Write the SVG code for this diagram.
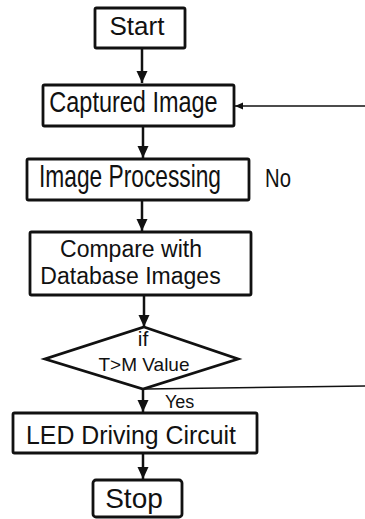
<svg xmlns="http://www.w3.org/2000/svg" width="365" height="519" viewBox="0 0 365 519">
<style>
.box{fill:#fff;stroke:#111;stroke-width:2.8}
.t{font-family:"Liberation Sans",Arial,sans-serif;fill:#111;text-anchor:middle}
.l{font-family:"Liberation Sans",Arial,sans-serif;fill:#111}
.arr{stroke:#111;stroke-width:2.5;fill:none}
.thin{stroke:#111;stroke-width:1.5;fill:none}
</style>
<defs>
<marker id="ah" markerUnits="userSpaceOnUse" markerWidth="12" markerHeight="12" viewBox="0 0 12 12" refX="12" refY="6" orient="auto">
<path d="M0,0.5 L12,6 L0,11.5 Z" fill="#111"/>
</marker>
<marker id="ahs" markerUnits="userSpaceOnUse" markerWidth="8" markerHeight="8" viewBox="0 0 8 8" refX="8" refY="4" orient="auto">
<path d="M0,0.5 L8,4 L0,7.5 Z" fill="#111"/>
</marker>
</defs>
<rect width="365" height="519" fill="#fff"/>
<g id="connectors">
<line class="arr" x1="142" y1="48" x2="142" y2="83" marker-end="url(#ah)"/>
<line class="arr" x1="143" y1="126" x2="143" y2="158" marker-end="url(#ah)"/>
<line class="arr" x1="142" y1="200" x2="142" y2="231" marker-end="url(#ah)"/>
<line class="arr" x1="144" y1="295" x2="144" y2="327" marker-end="url(#ah)"/>
<line class="arr" x1="143" y1="389" x2="143" y2="412" marker-end="url(#ah)"/>
<line class="arr" x1="143" y1="453" x2="143" y2="479" marker-end="url(#ah)"/>
<line class="thin" x1="145" y1="389" x2="365" y2="386"/>
<line class="thin" x1="365" y1="106" x2="235" y2="106" marker-end="url(#ahs)"/>
<text class="l" transform="translate(265,187) scale(0.78,1)" font-size="26">No</text>
<text class="l" x="165" y="408" font-size="18">Yes</text>
</g>
<g id="start">
<rect class="box" x="95" y="8" width="90" height="40" rx="1.5"/>
<text class="t" x="137" y="35" font-size="26">Start</text>
</g>
<g id="captured">
<rect class="box" x="43" y="85" width="191" height="41" rx="1.5"/>
<text class="t" transform="translate(133.5,112) scale(0.81,1)" font-size="29">Captured Image</text>
</g>
<g id="processing">
<rect class="box" x="27" y="159" width="222" height="41" rx="1.5"/>
<text class="t" transform="translate(130,187) scale(0.711,1)" font-size="32">Image Processing</text>
</g>
<g id="compare">
<rect class="box" x="30" y="232" width="221" height="63" rx="1.5"/>
<text class="t" x="131" y="257" font-size="23">Compare with</text>
<text class="t" x="130.5" y="284" font-size="23">Database Images</text>
</g>
<g id="decision">
<polygon class="box" points="144,327 238,359 143,389 45,359"/>
<text class="t" x="143" y="346" font-size="21">if</text>
<text class="t" x="144" y="371" font-size="19">T&gt;M Value</text>
</g>
<g id="led">
<rect class="box" x="13" y="413" width="244" height="40" rx="1.5"/>
<text class="t" transform="translate(131,444) scale(0.938,1)" font-size="26.5">LED Driving Circuit</text>
</g>
<g id="stop">
<rect class="box" x="93" y="480" width="89" height="37" rx="3"/>
<text class="t" x="134" y="508" font-size="28">Stop</text>
</g>
</svg>
